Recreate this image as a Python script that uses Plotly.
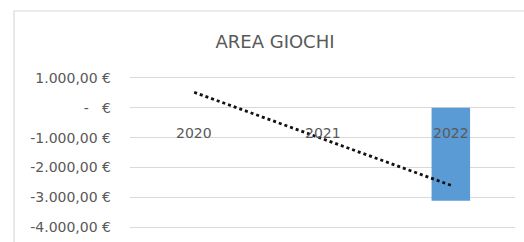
import numpy as np
import plotly.graph_objects as go

categories = ["2020", "2021", "2022"]
values = [0, 0, -3120]
tick_vals = [1000, 0, -1000, -2000, -3000, -4000]
tick_text = ["1.000,00 €", "-   €", "-1.000,00 €", "-2.000,00 €", "-3.000,00 €", "-4.000,00 €"]
title_text = "AREA GIOCHI"

idx = np.arange(1, len(values) + 1)
slope, intercept = np.polyfit(idx, values, 1)
trend = slope * idx + intercept

W, H = 524, 242
L, R, T, B = 130, 9, 75, 12
FONT = "DejaVu Sans"
GRAY = "#595959"

fig = go.Figure()
fig.add_trace(go.Bar(x=categories, y=values, marker=dict(color="#5b9bd5", line=dict(width=0)),
                     showlegend=False, hoverinfo="skip"))
fig.add_trace(go.Scatter(x=categories, y=trend, mode="lines",
                         line=dict(color="#111111", width=2.8, dash="dot"),
                         showlegend=False, hoverinfo="skip"))

for i, c in enumerate(categories):
    fig.add_annotation(x=i, y=0, xref="x", yref="y", text=c, showarrow=False,
                       yshift=-25, yanchor="middle", xanchor="center",
                       font=dict(family=FONT, size=14, color=GRAY))

pw = W - L - R
ph = H - T - B
fig.add_shape(type="rect", xref="paper", yref="paper",
              x0=(14 - L) / pw, x1=(W + 20 - L) / pw,
              y0=-(H + 20 - (H - B)) / ph, y1=((H - B) - 11) / ph,
              line=dict(color="#d9d9d9", width=1.2), fillcolor="rgba(0,0,0,0)", layer="below")

fig.update_layout(
    width=W, height=H,
    margin=dict(l=L, r=R, t=T, b=B, autoexpand=False),
    paper_bgcolor="white", plot_bgcolor="white",
    bargap=0.7,
    title=dict(text=title_text, x=275 / W, xref="container", xanchor="center",
               y=1 - 42 / H, yref="container", yanchor="middle",
               font=dict(family=FONT, size=18, color=GRAY)),
    xaxis=dict(type="category", range=[-0.5, len(categories) - 0.5],
               showticklabels=False, showgrid=False, zeroline=False,
               showline=False, ticks="", automargin=False),
    yaxis=dict(range=[-4100, 1100], tickvals=tick_vals, ticktext=tick_text,
               showgrid=True, gridcolor="#d9d9d9", gridwidth=1,
               zeroline=True, zerolinecolor="#d9d9d9", zerolinewidth=1,
               showline=False, ticks="", ticklabelstandoff=18, automargin=False,
               tickfont=dict(family=FONT, size=14, color=GRAY)),
)

fig.write_html("out.html", config={"displayModeBar": False},
               post_script="document.body.style.margin='0';")
